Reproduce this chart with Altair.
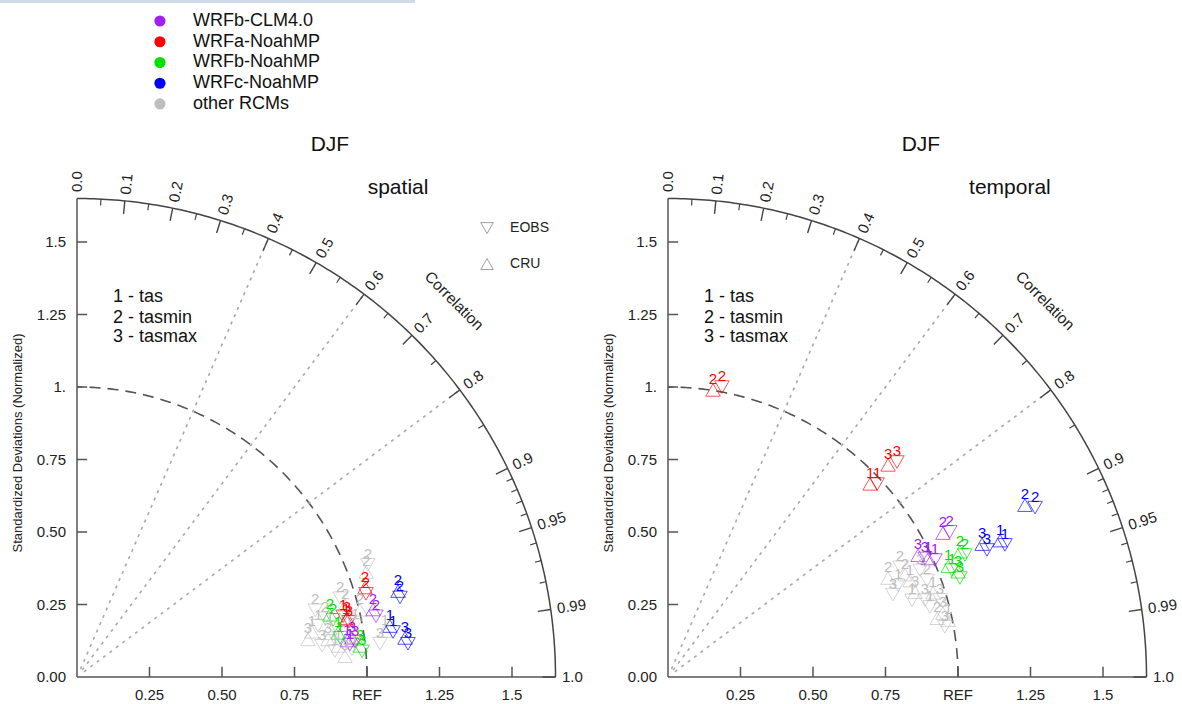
import altair as alt
import numpy as np
import pandas as pd

FONT = "Liberation Sans"

# ---------------- data ----------------
models = ["WRFb-CLM4.0", "WRFa-NoahMP", "WRFb-NoahMP", "WRFc-NoahMP", "other RCMs"]
colors = ["#a020f0", "#ff0000", "#00e000", "#0000ff", "#bebebe"]
var_labels = ["1 - tas", "2 - tasmin", "3 - tasmax"]
ref_names = ["EOBS", "CRU"]

# spatial panel
sp_model = (["other RCMs"] * 20
            + ["WRFb-CLM4.0"] * 6 + ["WRFa-NoahMP"] * 6 + ["WRFb-NoahMP"] * 6 + ["WRFc-NoahMP"] * 6)
sp_var = ([2, 2, 2, 2, 1, 1, 3, 3, 1, 3, 2, 3, 1, 3, 1, 2, 1, 3, 2, 1]
          + [1, 1, 2, 2, 3, 3] * 4)
sp_ref = (["EOBS", "CRU", "EOBS", "CRU", "EOBS", "CRU", "EOBS", "CRU", "EOBS", "CRU",
           "EOBS", "CRU", "CRU", "EOBS", "EOBS", "CRU", "CRU", "EOBS", "EOBS", "CRU"]
          + ["EOBS", "CRU"] * 12)
sp_std = [1.075, 1.061, 0.947, 0.957, 0.850, 0.825, 0.852, 0.875, 0.894, 0.927,
          0.879, 0.807, 1.074, 1.051, 0.976, 1.003, 0.888, 0.953, 0.853, 0.907,
          0.948, 0.940, 1.052, 1.047, 0.967, 0.958,
          0.941, 0.949, 1.037, 1.040, 0.957, 0.953,
          0.917, 0.913, 0.905, 0.898, 0.987, 0.982,
          1.101, 1.093, 1.147, 1.146, 1.147, 1.139]
sp_corr = [0.933, 0.940, 0.958, 0.966, 0.978, 0.982, 0.992, 0.989, 0.995, 0.997,
           0.973, 0.987, 0.989, 0.994, 0.983, 0.973, 0.982, 0.995, 0.963, 0.993,
           0.993, 0.991, 0.980, 0.975, 0.992, 0.990,
           0.975, 0.978, 0.961, 0.955, 0.980, 0.977,
           0.989, 0.986, 0.976, 0.971, 0.996, 0.994,
           0.990, 0.987, 0.971, 0.966, 0.995, 0.993]

# temporal panel
tp_model = (["other RCMs"] * 18
            + ["WRFb-CLM4.0"] * 6 + ["WRFa-NoahMP"] * 6 + ["WRFb-NoahMP"] * 6 + ["WRFc-NoahMP"] * 6)
tp_var = ([2, 2, 1, 1, 3, 3, 2, 1, 3, 1, 3, 2, 2, 1, 3, 2, 1, 3]
          + [1, 1, 2, 2, 3, 3] * 4)
tp_ref = (["EOBS", "CRU", "EOBS", "CRU", "EOBS", "CRU", "EOBS", "CRU", "EOBS", "EOBS",
           "CRU", "CRU", "EOBS", "CRU", "EOBS", "CRU", "EOBS", "EOBS"]
          + ["EOBS", "CRU"] * 12)
tp_std = [0.885, 0.890, 0.854, 0.898, 0.826, 0.901, 0.953, 0.959, 0.975, 0.935,
          0.973, 0.950, 0.944, 0.986, 0.925, 0.832, 0.882, 0.970,
          1.005, 0.986, 1.093, 1.070, 0.976, 0.959,
          0.981, 0.964, 1.017, 1.002, 1.083, 1.054,
          1.046, 1.039, 1.107, 1.095, 1.063, 1.064,
          1.248, 1.238, 1.394, 1.366, 1.184, 1.176]
tp_corr = [0.904, 0.918, 0.929, 0.929, 0.939, 0.946, 0.937, 0.953, 0.962, 0.966,
           0.974, 0.977, 0.921, 0.980, 0.958, 0.912, 0.954, 0.984,
           0.916, 0.910, 0.889, 0.886, 0.908, 0.899,
           0.735, 0.723, 0.183, 0.155, 0.729, 0.720,
           0.936, 0.930, 0.925, 0.919, 0.947, 0.940,
           0.931, 0.925, 0.908, 0.901, 0.929, 0.921]

# axis / grid values
std_ticks = [0.25, 0.50, 0.75, 1.0, 1.25, 1.5]
y_tick_labels = ["0.00", "0.25", "0.50", "0.75", "1.", "1.25", "1.5"]
x_tick_labels = ["0.25", "0.50", "0.75", "REF", "1.25", "1.5"]
corr_major = [0.0, 0.1, 0.2, 0.3, 0.4, 0.5, 0.6, 0.7, 0.8, 0.9, 0.95, 0.99, 1.0]
corr_major_labels = ["0.0", "0.1", "0.2", "0.3", "0.4", "0.5", "0.6", "0.7", "0.8",
                     "0.9", "0.95", "0.99", "1.0"]
corr_minor = [0.05, 0.15, 0.25, 0.35, 0.45, 0.55, 0.65, 0.75, 0.85,
              0.91, 0.92, 0.93, 0.94, 0.96, 0.97, 0.98]
corr_grid = [0.4, 0.6, 0.8]
R_MAX = 1.65

# ---------------- geometry helpers ----------------
X0, X1 = -0.2655, 1.7724
Y0, Y1 = -0.0931, 2.3345
PW, PH = 591, 704

xs = alt.Scale(domain=[X0, X1], nice=False, zero=False)
ys = alt.Scale(domain=[Y0, Y1], nice=False, zero=False)


def X(f="x"):
    return alt.X(f"{f}:Q", scale=xs, axis=None)


def Y(f="y"):
    return alt.Y(f"{f}:Q", scale=ys, axis=None)


def arc_df(r):
    t = np.radians(np.linspace(0, 90, 181))
    return pd.DataFrame({"o": np.arange(len(t)), "x": r * np.cos(t), "y": r * np.sin(t)})


def corr_tick_df(vals, length):
    rows = []
    for c in vals:
        s = np.sqrt(1 - c * c)
        rows.append({"x": R_MAX * c, "y": R_MAX * s, "x2": (R_MAX - length) * c, "y2": (R_MAX - length) * s})
    return pd.DataFrame(rows)


color_scale = alt.Scale(domain=models, range=colors)
shape_scale = alt.Scale(domain=ref_names, range=["triangle-down", "triangle-up"])


def panel(model, var, ref, std, corr, title, subtitle, with_legends):
    pts = pd.DataFrame({"model": model, "var": [str(v) for v in var], "ref": ref,
                        "std": std, "corr": corr})
    pts["x"] = pts["std"] * pts["corr"]
    pts["y"] = pts["std"] * np.sqrt(1 - pts["corr"] ** 2)

    layers = []
    # outer arc
    layers.append(alt.Chart(arc_df(R_MAX)).mark_line(color="#444", strokeWidth=1.5)
                  .encode(x=X(), y=Y(), order="o:Q"))
    # REF dashed arc
    layers.append(alt.Chart(arc_df(1.0)).mark_line(color="#555", strokeWidth=1.6, strokeDash=[11, 7])
                  .encode(x=X(), y=Y(), order="o:Q"))
    # dotted radial lines
    g = pd.DataFrame({"c": corr_grid})
    g["x"] = 0.03 * g["c"]
    g["y"] = 0.03 * np.sqrt(1 - g["c"] ** 2)
    g["x2"] = R_MAX * g["c"]
    g["y2"] = R_MAX * np.sqrt(1 - g["c"] ** 2)
    layers.append(alt.Chart(g).mark_rule(color="#a8a8a8", strokeWidth=1.6, strokeDash=[3, 5])
                  .encode(x=X(), y=Y(), x2="x2:Q", y2="y2:Q"))
    # axis lines
    ax = pd.DataFrame({"x": [0, 0], "y": [0, 0], "x2": [0, R_MAX], "y2": [R_MAX, 0]})
    layers.append(alt.Chart(ax).mark_rule(color="#555", strokeWidth=1.5)
                  .encode(x=X(), y=Y(), x2="x2:Q", y2="y2:Q"))
    # axis ticks
    tk = pd.DataFrame({"v": std_ticks})
    layers.append(alt.Chart(tk).mark_rule(color="#555", strokeWidth=1.5)
                  .encode(x=X("v"), y=alt.Y(datum=0, scale=ys, axis=None), y2=alt.datum(0.035)))
    layers.append(alt.Chart(tk).mark_rule(color="#555", strokeWidth=1.5)
                  .encode(y=Y("v"), x=alt.X(datum=0, scale=xs, axis=None), x2=alt.datum(0.035)))
    # y tick labels
    yl = pd.DataFrame({"v": [0.0] + std_ticks, "t": y_tick_labels})
    layers.append(alt.Chart(yl).mark_text(align="right", baseline="middle", dx=-11, fontSize=15,
                                          font=FONT, color="#222")
                  .encode(y=Y("v"), x=alt.X(datum=0, scale=xs, axis=None), text="t:N"))
    # x tick labels
    xl = pd.DataFrame({"v": std_ticks, "t": x_tick_labels})
    layers.append(alt.Chart(xl).mark_text(align="center", baseline="top", dy=11, fontSize=15,
                                          font=FONT, color="#222")
                  .encode(x=X("v"), y=alt.Y(datum=0, scale=ys, axis=None), text="t:N"))
    # correlation ticks
    layers.append(alt.Chart(corr_tick_df(corr_major[1:-1], 0.045)).mark_rule(color="#444", strokeWidth=1.4)
                  .encode(x=X(), y=Y(), x2="x2:Q", y2="y2:Q"))
    layers.append(alt.Chart(corr_tick_df([1.0], 0.045)).mark_rule(color="#444", strokeWidth=1.4)
                  .encode(x=X(), y=Y(), x2="x2:Q", y2="y2:Q"))
    layers.append(alt.Chart(corr_tick_df(corr_minor, 0.022)).mark_rule(color="#444", strokeWidth=1.2)
                  .encode(x=X(), y=Y(), x2="x2:Q", y2="y2:Q"))
    # correlation labels
    cl = pd.DataFrame({"c": corr_major, "t": corr_major_labels})
    rr = R_MAX + 0.022
    cl["x"] = rr * cl["c"]
    cl["y"] = rr * np.sqrt(1 - cl["c"] ** 2)
    cl["a"] = (360 - np.degrees(np.arccos(cl["c"]))) % 360
    layers.append(alt.Chart(cl).mark_text(align="left", baseline="middle", fontSize=15, font=FONT, color="#222")
                  .encode(x=X(), y=Y(), text="t:N", angle=alt.Angle("a:Q", scale=None)))
    # "Correlation"
    layers.append(alt.Chart(pd.DataFrame({"x": [1.30], "y": [1.297], "t": ["Correlation"]}))
                  .mark_text(align="center", baseline="middle", fontSize=15.5, font=FONT, angle=45, color="#222")
                  .encode(x=X(), y=Y(), text="t:N"))
    # y axis title
    layers.append(alt.Chart(pd.DataFrame({"x": [-0.203], "y": [0.807], "t": ["Standardized Deviations (Normalized)"]}))
                  .mark_text(align="center", baseline="middle", fontSize=13, font=FONT, angle=270, color="#222")
                  .encode(x=X(), y=Y(), text="t:N"))
    # titles
    layers.append(alt.Chart(pd.DataFrame({"x": [0.872], "y": [1.834], "t": [title]}))
                  .mark_text(align="center", baseline="middle", fontSize=21, font=FONT, color="#111")
                  .encode(x=X(), y=Y(), text="t:N"))
    layers.append(alt.Chart(pd.DataFrame({"x": [subtitle[1]], "y": [1.686], "t": [subtitle[0]]}))
                  .mark_text(align="center", baseline="middle", fontSize=21, font=FONT, color="#111")
                  .encode(x=X(), y=Y(), text="t:N"))
    # variable key
    vk = pd.DataFrame({"t": var_labels})
    vk["x"] = 0.124
    vk["y"] = [1.31, 1.238, 1.172]
    layers.append(alt.Chart(vk).mark_text(align="left", baseline="middle", fontSize=18, font=FONT, color="#111")
                  .encode(x=X(), y=Y(), text="t:N"))

    # data markers
    layers.append(alt.Chart(pts).mark_point(filled=False, size=210, strokeWidth=0.9, opacity=0.75)
                  .encode(x=X(), y=Y(),
                          color=alt.Color("model:N", scale=color_scale, legend=None),
                          shape=alt.Shape("ref:N", scale=shape_scale, legend=None)))
    layers.append(alt.Chart(pts).mark_text(dy=-11, fontSize=15, font=FONT)
                  .encode(x=X(), y=Y(), text="var:N",
                          color=alt.Color("model:N", scale=color_scale, legend=None)))

    if with_legends:
        # reference-data key
        rk = pd.DataFrame({"ref": ref_names})
        rk["x"] = 1.414
        rk["y"] = [1.548, 1.424]
        layers.append(alt.Chart(rk).mark_point(filled=False, size=160, strokeWidth=1, color="#777")
                      .encode(x=X(), y=Y(), shape=alt.Shape("ref:N", scale=shape_scale, legend=None)))
        layers.append(alt.Chart(rk).mark_text(align="left", baseline="middle", dx=23, fontSize=14,
                                              font=FONT, color="#222")
                      .encode(x=X(), y=Y(), text="ref:N"))
        # model colour key
        mk = pd.DataFrame({"model": models})
        mk["x"] = 0.286
        mk["y"] = 2.262 - 0.0715 * np.arange(len(models))
        layers.append(alt.Chart(mk).mark_circle(size=125, opacity=1)
                      .encode(x=X(), y=Y(),
                              color=alt.Color("model:N", scale=color_scale, legend=None)))
        layers.append(alt.Chart(mk).mark_text(align="left", baseline="middle", dx=33, fontSize=18,
                                              font=FONT, color="#111")
                      .encode(x=X(), y=Y(), text="model:N"))
        layers.append(alt.Chart(pd.DataFrame({"k": [0]})).mark_rect(color="#cfdbe8")
                      .encode(x=alt.value(0), x2=alt.value(415), y=alt.value(0), y2=alt.value(3)))

    return alt.layer(*layers).properties(width=PW, height=PH)


left = panel(sp_model, sp_var, sp_ref, sp_std, sp_corr, "DJF", ("spatial", 1.107), True)
right = panel(tp_model, tp_var, tp_ref, tp_std, tp_corr, "DJF", ("temporal", 1.179), False)

chart = (alt.hconcat(left, right, spacing=0)
         .properties(padding=0, background="white")
         .configure_view(stroke=None)
         .configure_concat(spacing=0))

chart.save("out.html", embed_options={"renderer": "svg", "actions": False})
